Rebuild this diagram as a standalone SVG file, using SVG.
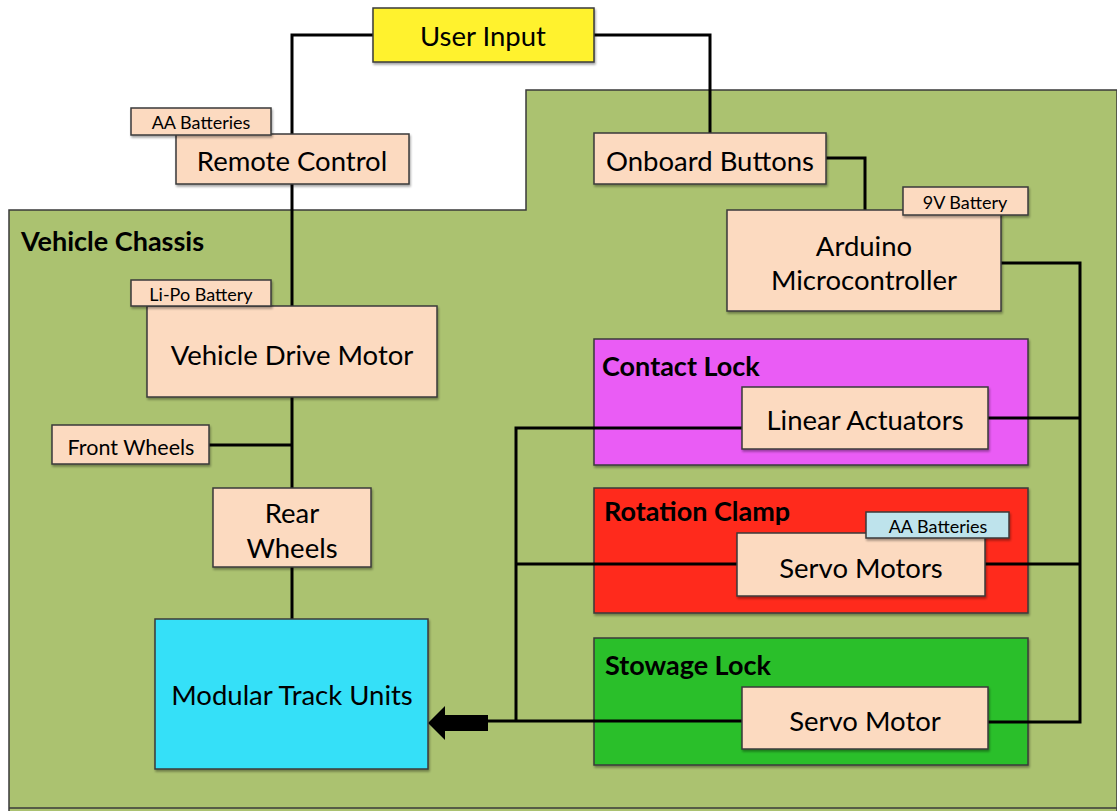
<svg xmlns="http://www.w3.org/2000/svg" width="1117" height="811" viewBox="0 0 1117 811">
<defs>
<filter id="sh" x="-10%" y="-10%" width="120%" height="130%">
<feDropShadow dx="1" dy="2" stdDeviation="1.2" flood-color="#000" flood-opacity="0.35"/>
</filter>
<style>
.box{fill:#FCDAC0;stroke:#3a3a3a;stroke-width:1.5;filter:url(#sh)}
.grp{stroke:#3a3a3a;stroke-width:1.5;filter:url(#sh)}
.t{font-family:Lato,"Liberation Sans",sans-serif;fill:#000;text-anchor:middle}
.big{font-size:27.5px}
.mid{font-size:21.5px}
.sm{font-size:18px}
.b{font-family:Lato,"Liberation Sans",sans-serif;font-weight:bold;font-size:27px;fill:#000}
.ln{fill:none;stroke:#000;stroke-width:3}
</style>
</defs>
<rect width="1117" height="811" fill="#fff"/>
<g id="chassis">
<path d="M9,811 V210 H526 V90 H1117 V811" fill="#ABC270" stroke="#3a3a3a" stroke-width="1.5"/>
<path d="M9,808 H1117" stroke="#3a3a3a" stroke-width="1.5"/>
<text class="b" x="21" y="251">Vehicle Chassis</text>
</g>
<g id="contact-lock">
<rect class="grp" x="594" y="339" width="434" height="126" fill="#EA5CF5"/>
<text class="b" x="602" y="376">Contact Lock</text>
</g>
<g id="rotation-clamp">
<rect class="grp" x="594" y="488" width="434" height="125" fill="#FF2A1A"/>
<text class="b" x="604" y="521">Rotation Clamp</text>
</g>
<g id="stowage-lock">
<rect class="grp" x="594" y="638" width="434" height="127" fill="#2BBF2B"/>
<text class="b" x="605" y="675">Stowage Lock</text>
</g>
<g id="connectors">
<path class="ln" d="M373,35 H292 V135"/>
<path class="ln" d="M594,35 H710 V133"/>
<path class="ln" d="M292,184 V306"/>
<path class="ln" d="M292,397 V488"/>
<path class="ln" d="M209,445 H292"/>
<path class="ln" d="M292,567 V619"/>
<path class="ln" d="M826,158 H865 V210"/>
<path class="ln" d="M1001,263 H1080 V722 H988"/>
<path class="ln" d="M988,418 H1080"/>
<path class="ln" d="M985,564 H1080"/>
<path class="ln" d="M742,428 H516 V721"/>
<path class="ln" d="M737,564 H516"/>
<path class="ln" d="M742,721 H487"/>
<path d="M428,723 L445,706 V715 H488 V731 H445 V740 Z" fill="#000"/>
</g>
<g id="user-input">
<rect class="box" x="373" y="8" width="221" height="54" style="fill:#FFF22E"/>
<text class="t big" x="483" y="46">User Input</text>
</g>
<g id="remote-control">
<rect class="box" x="176" y="134" width="233" height="50"/>
<text class="t big" x="292" y="171">Remote Control</text>
</g>
<g id="aa-batteries-1">
<rect class="box" x="131" y="108" width="140" height="27"/>
<text class="t sm" x="201" y="129">AA Batteries</text>
</g>
<g id="vehicle-drive-motor">
<rect class="box" x="147" y="306" width="290" height="91"/>
<text class="t big" x="292" y="365">Vehicle Drive Motor</text>
</g>
<g id="li-po-battery">
<rect class="box" x="131" y="280" width="140" height="26"/>
<text class="t sm" x="201" y="301">Li-Po Battery</text>
</g>
<g id="front-wheels">
<rect class="box" x="52" y="425" width="157" height="39"/>
<text class="t mid" x="131" y="455">Front Wheels</text>
</g>
<g id="rear-wheels">
<rect class="box" x="213" y="488" width="158" height="79"/>
<text class="t big" x="292" y="523">Rear</text>
<text class="t big" x="292" y="558">Wheels</text>
</g>
<g id="modular-track-units">
<rect class="box" x="155" y="619" width="273" height="150" style="fill:#35E0F8"/>
<text class="t big" x="292" y="705">Modular Track Units</text>
</g>
<g id="onboard-buttons">
<rect class="box" x="594" y="133" width="232" height="51"/>
<text class="t big" x="710" y="171">Onboard Buttons</text>
</g>
<g id="arduino">
<rect class="box" x="727" y="210" width="274" height="101"/>
<text class="t big" x="864" y="256">Arduino</text>
<text class="t big" x="864" y="290">Microcontroller</text>
</g>
<g id="nine-v-battery">
<rect class="box" x="903" y="187" width="125" height="28"/>
<text class="t sm" x="965" y="209">9V Battery</text>
</g>
<g id="linear-actuators">
<rect class="box" x="742" y="387" width="246" height="62"/>
<text class="t big" x="865" y="430">Linear Actuators</text>
</g>
<g id="servo-motors">
<rect class="box" x="737" y="533" width="248" height="63"/>
<text class="t big" x="861" y="578">Servo Motors</text>
</g>
<g id="aa-batteries-2">
<rect class="box" x="866" y="512" width="143" height="26" style="fill:#BEE3EC"/>
<text class="t sm" x="938" y="533">AA Batteries</text>
</g>
<g id="servo-motor">
<rect class="box" x="742" y="687" width="246" height="62"/>
<text class="t big" x="865" y="731">Servo Motor</text>
</g>
</svg>
